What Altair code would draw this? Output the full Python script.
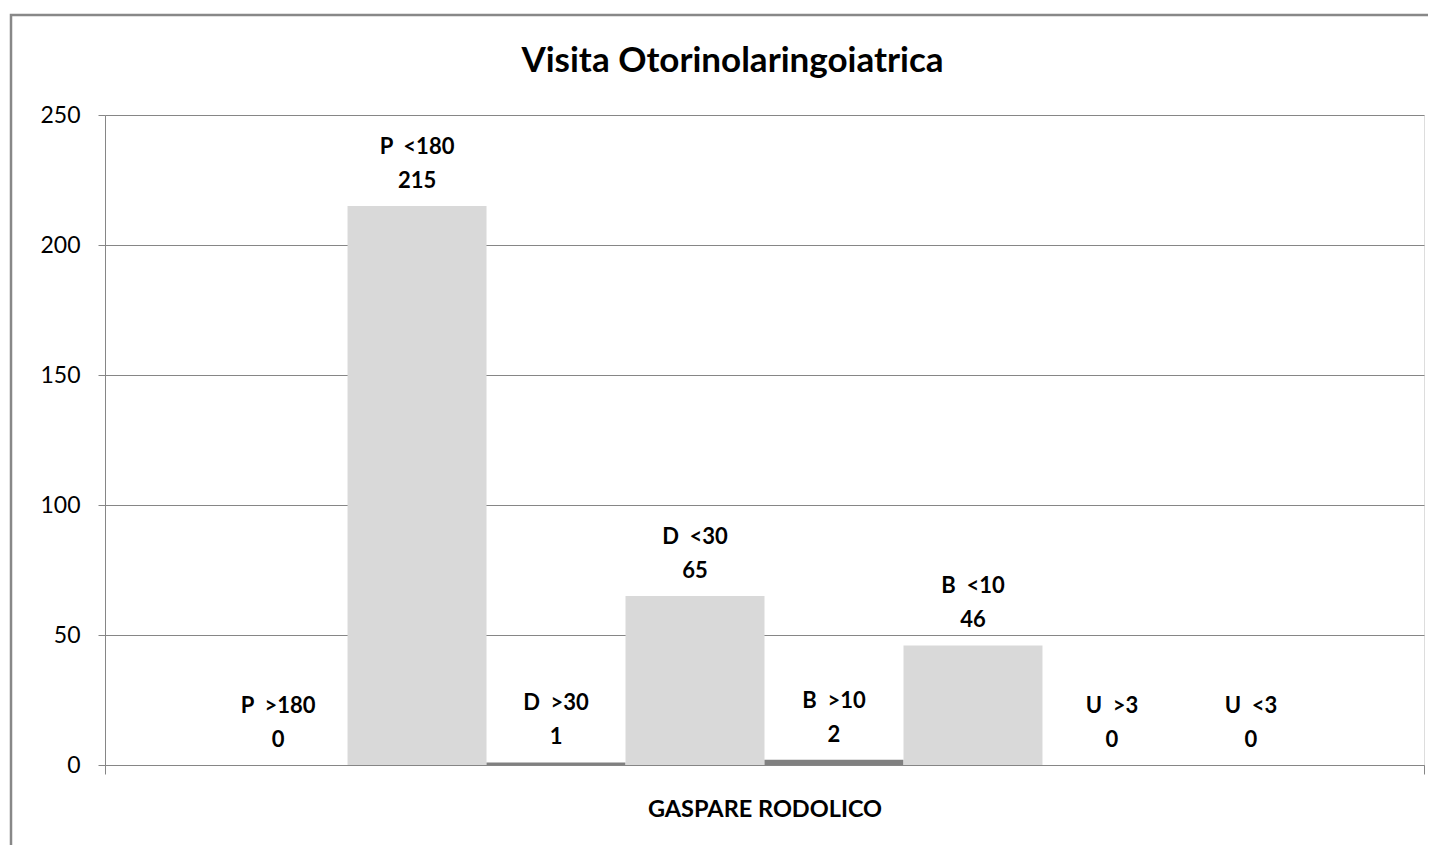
import altair as alt
import pandas as pd

title_text = "Visita Otorinolaringoiatrica"
category = "GASPARE RODOLICO"
series = ["P\u00a0 >180", "P\u00a0 <180", "D\u00a0 >30", "D\u00a0 <30",
          "B\u00a0 >10", "B\u00a0 <10", "U\u00a0 >3", "U\u00a0 <3"]
values = [0, 215, 1, 65, 2, 46, 0, 0]
groups = ["oltre", "entro", "oltre", "entro", "oltre", "entro", "oltre", "entro"]
y_ticks = [0, 50, 100, 150, 200, 250]

df = pd.DataFrame({
    "serie": series,
    "valore": values,
    "gruppo": groups,
    "label": [f"{s}\n{v}" for s, v in zip(series, values)],
    "categoria": [category] * len(series),
})

W, H = 1319, 650
FONT = "Lato"
GRID = "#868686"

xs = alt.X("serie:N", sort=series, axis=None,
           scale=alt.Scale(paddingInner=0, paddingOuter=0.745))
ys = alt.Y("valore:Q",
           scale=alt.Scale(domain=[0, 250], nice=False),
           axis=alt.Axis(values=y_ticks, title=None, grid=True, gridColor=GRID,
                         gridWidth=1, domainColor=GRID, tickColor=GRID,
                         tickSize=7, labelFont=FONT, labelFontSize=23,
                         labelColor="black", labelPadding=18))

bars = alt.Chart(df).mark_bar().encode(
    x=xs,
    y=ys,
    color=alt.Color("gruppo:N", legend=None,
                    scale=alt.Scale(domain=["oltre", "entro"],
                                    range=["#808080", "#d9d9d9"])),
)

labels = alt.Chart(df).mark_text(
    lineBreak="\n", baseline="bottom", dy=-47, font=FONT, fontSize=22,
    fontWeight="bold", color="black", lineHeight=34,
).encode(x=xs, y=alt.Y("valore:Q"), text="label:N")

cat_layer = alt.Chart(df).mark_point(opacity=0).encode(
    x=alt.X("categoria:N", title=None,
            scale=alt.Scale(paddingInner=0, paddingOuter=0),
            axis=alt.Axis(tickBand="extent", labelAngle=0, domainColor=GRID,
                          tickColor=GRID, tickSize=9, labelFont=FONT,
                          labelFontSize=23.5, labelFontWeight="bold",
                          labelColor="black", labelPadding=23, labelLimit=0)),
)

border = alt.Chart(alt.Data(values=[{}])).mark_rect(
    fill=None, stroke="#888888", strokeWidth=2.5,
).encode(x=alt.value(-94), x2=alt.value(1345), y=alt.value(-100), y2=alt.value(750))

chart = alt.layer(border, alt.layer(bars, labels), cat_layer).resolve_scale(
    x="independent"
).properties(
    width=W, height=H,
    autosize=alt.AutoSizeParams(type="none"),
    padding={"left": 97, "top": 107, "right": 4, "bottom": 80},
    title=alt.TitleParams(title_text, font=FONT, fontSize=35, fontWeight="bold",
                          color="black", anchor="middle", frame="group",
                          baseline="alphabetic", dx=-32, offset=-93),
).configure_view(stroke=None).configure(background="white")

chart.save("out.html", embed_options={"renderer": "svg", "actions": False})
